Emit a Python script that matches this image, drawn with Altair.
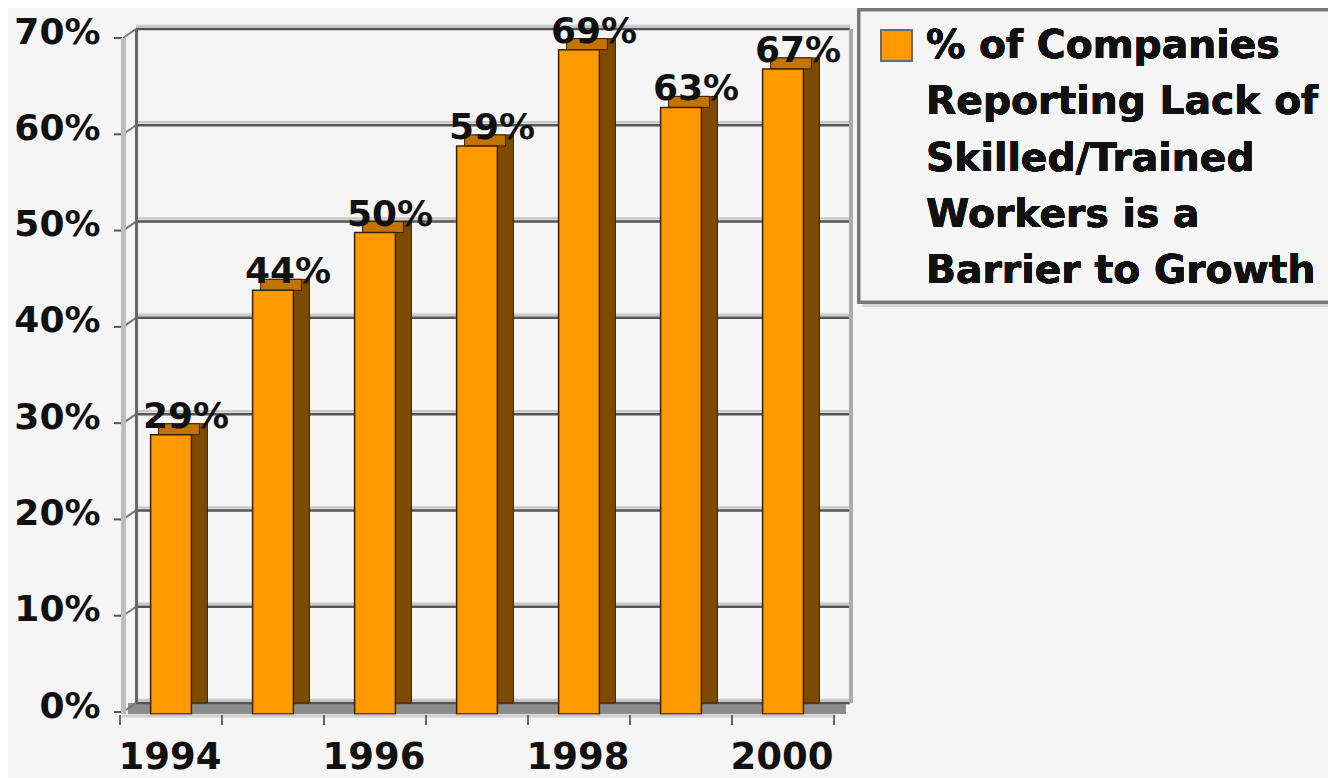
import altair as alt
import pandas as pd

years = ["1994", "1995", "1996", "1997", "1998", "1999", "2000"]
values = [29, 44, 50, 59, 69, 63, 67]
y_ticks = [0, 10, 20, 30, 40, 50, 60, 70]
legend_lines = ["% of Companies", "Reporting Lack of", "Skilled/Trained",
                "Workers is a", "Barrier to Growth"]

FRONT = "#ff9900"
SIDE = "#7d4b00"
TOP = "#c27400"
EDGE = "#3a2200"
BG = "#f6f5f6"
FONT = "DejaVu Sans"

W, H = 714, 674

df = pd.DataFrame({"year": years, "v": values})
tk = pd.DataFrame({"t": y_ticks})

xs = alt.Scale(paddingInner=0.6, paddingOuter=0.3)
ys = alt.Scale(domain=[0, 70], nice=False, zero=True)

xaxis = alt.Axis(title=None, orient="bottom", offset=12, domain=False, ticks=False,
                 labelPadding=24, labelOffset=-17, labelAngle=0,
                 labelFont=FONT, labelFontSize=37, labelFontWeight="bold",
                 labelColor="#111", labelBaseline="top",
                 labelExpr="(+datum.value) % 2 == 0 ? datum.value : ''")
yaxis = alt.Axis(title=None, values=y_ticks, offset=14, domain=False, ticks=False,
                 grid=False, labelPadding=22, labelOffset=3, labelFlush=False,
                 labelOverlap=False, labelFont=FONT, labelFontSize=36,
                 labelFontWeight="bold", labelColor="#111",
                 labelExpr="datum.value + '%'")

XB = alt.X("year:N", scale=xs, sort=years, axis=xaxis)
YB = alt.Y("v:Q", scale=ys, axis=yaxis)
YT = alt.Y("t:Q", scale=ys, axis=yaxis)
YLO = alt.Y("lo:Q", scale=ys, axis=yaxis)
YHI = alt.Y("hi:Q", scale=ys, axis=yaxis)

base = alt.Chart(df)
tbase = alt.Chart(tk)
frame = tbase.transform_aggregate(lo="min(t)", hi="max(t)")

# floor
floor = frame.mark_rect(color="#8c8c8c", y2Offset=11, xOffset=-8, x2Offset=-4).encode(
    x=alt.value(0), x2=alt.value(W), y=YLO, y2=alt.Y2("lo:Q"))
floor_edge = frame.mark_rule(color="#cfcfcf", strokeWidth=3, yOffset=13).encode(
    x=alt.value(-14), x2=alt.value(W - 14), y=YLO)

# gridlines on the back wall
grid_light = tbase.mark_rule(color="#c8c8c8", strokeWidth=2.5, yOffset=-3).encode(
    x=alt.value(0), x2=alt.value(W), y=YT)
grid_dark = tbase.mark_rule(color="#555555", strokeWidth=2.5).encode(
    x=alt.value(0), x2=alt.value(W), y=YT)
grid_diag = tbase.mark_rule(color="#777777", strokeWidth=2, yOffset=9).encode(
    x=alt.value(-13), x2=alt.value(0), y=YT, y2=alt.Y2("t:Q"))
y_tick_marks = tbase.mark_rule(color="#555555", strokeWidth=2, yOffset=9).encode(
    x=alt.value(-22), x2=alt.value(-14), y=YT)

# walls
back_edge = frame.mark_rule(color="#666666", strokeWidth=3).encode(
    x=alt.value(0.5), y=YHI, y2=alt.Y2("lo:Q"))
front_axis = frame.mark_rule(color="#bdbdbd", strokeWidth=5, yOffset=9, y2Offset=11).encode(
    x=alt.value(-12.5), y=YHI, y2=alt.Y2("lo:Q"))
right_wall = frame.mark_rule(color="#ababab", strokeWidth=4).encode(
    x=alt.value(W + 1), y=YHI, y2=alt.Y2("lo:Q"))

# bars (pseudo 3D: side/back block, top strip, front face)
side = base.mark_bar(color=SIDE, stroke=EDGE, strokeWidth=1).encode(x=XB, y=YB)
top = base.mark_bar(color=TOP, stroke=EDGE, strokeWidth=1, xOffset=-8, y2Offset=11).encode(
    x=XB, y=YB, y2=alt.Y2("v:Q"))
front = base.mark_bar(color=FRONT, stroke=EDGE, strokeWidth=1.5,
                      xOffset=-16, yOffset=11, y2Offset=11).encode(x=XB, y=YB)

labels = base.transform_calculate(label="datum.v + '%'").mark_text(
    font=FONT, fontSize=36, fontWeight="bold", color="#111",
    baseline="alphabetic", align="center", dx=-1, dy=4).encode(
    x=XB, y=YB, text=alt.Text("label:N"))

# x ticks at front band boundaries
x_ticks = base.mark_rule(color="#666666", strokeWidth=2, xOffset=-46.6).encode(
    x=alt.X("year:N", scale=xs, sort=years, axis=xaxis, bandPosition=0),
    y=alt.value(H + 12), y2=alt.value(H + 22))
x_tick_end = base.mark_rule(color="#666666", strokeWidth=2).encode(
    x=alt.value(W - 16), y=alt.value(H + 12), y2=alt.value(H + 22))

# legend box
leg_shadow = base.mark_rect(fill="#d6d6d6").encode(
    x=alt.value(726), x2=alt.value(1200), y=alt.value(-16), y2=alt.value(278))
leg_box = base.mark_rect(fill=BG, stroke="#777777", strokeWidth=3).encode(
    x=alt.value(723), x2=alt.value(1198), y=alt.value(-19), y2=alt.value(273))
leg_swatch = base.mark_rect(fill=FRONT, stroke="#6a6a6a", strokeWidth=2).encode(
    x=alt.value(745), x2=alt.value(776), y=alt.value(1), y2=alt.value(32))
leg_text = base.mark_text(font=FONT, fontSize=39.3, fontWeight="bold", color="#111",
                          align="left", baseline="alphabetic", lineHeight=56.3,
                          lineBreak="\n").encode(
    x=alt.value(790), y=alt.value(29), text=alt.value("\n".join(legend_lines)))

chart = alt.layer(
    floor, grid_light, grid_dark, grid_diag, y_tick_marks, back_edge, right_wall,
    side, top, front, front_axis, floor_edge, x_ticks, x_tick_end, labels,
    leg_shadow, leg_box, leg_swatch, leg_text
).properties(
    width=W, height=H,
    padding={"left": 128, "top": 21, "right": 478, "bottom": 75},
    autosize=alt.AutoSizeParams(type="none"),
    background=BG,
).configure_view(stroke=None)

chart.save("out.html", embed_options={"renderer": "svg", "actions": False})
